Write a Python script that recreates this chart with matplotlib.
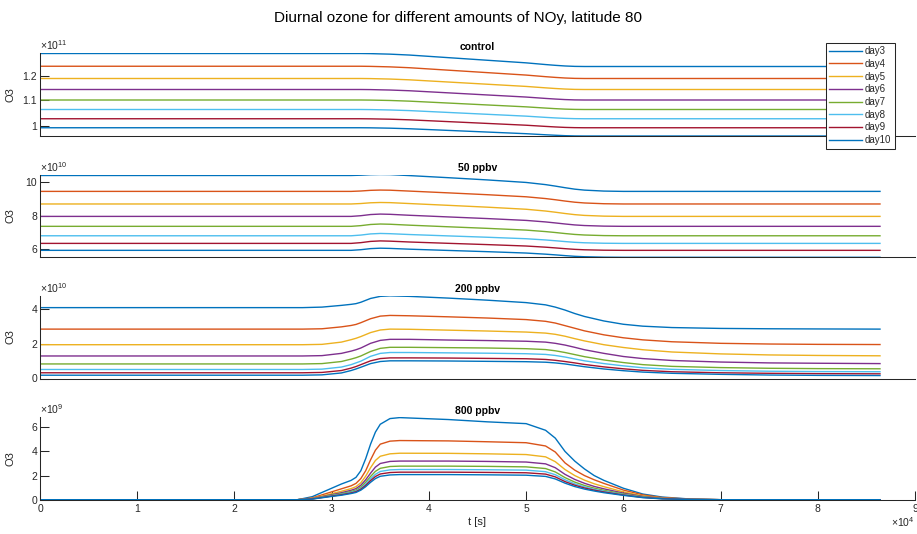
import matplotlib
matplotlib.use('Agg')
import matplotlib.pyplot as plt

plt.rcParams['font.family'] = ['Liberation Sans', 'DejaVu Sans']
plt.rcParams['mathtext.default'] = 'regular'

days = ['day3', 'day4', 'day5', 'day6', 'day7', 'day8', 'day9', 'day10']
colors = ['#0072BD', '#D95319', '#EDB120', '#7E2F8E', '#77AC30', '#4DBEEE', '#A2142F', '#0072BD']

# time in units of 1e4 s
# control, O3 in units of 1e11
t_control = [0, 3.3, 3.4, 3.5, 3.6, 3.8, 4.2, 4.6, 5.0, 5.2, 5.3, 5.4, 5.5, 5.6, 8.64]
o3_control = [
    [1.288, 1.288, 1.2875, 1.2864, 1.2854, 1.2818, 1.2714, 1.2610, 1.2506, 1.2438, 1.2407, 1.2381, 1.2365, 1.236, 1.236],
    [1.237, 1.237, 1.2365, 1.2355, 1.2345, 1.2311, 1.2213, 1.2115, 1.2017, 1.1953, 1.1924, 1.1900, 1.1885, 1.188, 1.188],
    [1.188, 1.188, 1.1876, 1.1867, 1.1858, 1.1827, 1.1739, 1.1651, 1.1563, 1.1506, 1.1480, 1.1458, 1.1444, 1.144, 1.144],
    [1.144, 1.144, 1.1436, 1.1427, 1.1419, 1.1390, 1.1306, 1.1222, 1.1138, 1.1083, 1.1058, 1.1037, 1.1024, 1.102, 1.102],
    [1.102, 1.102, 1.1016, 1.1009, 1.1001, 1.0974, 1.0898, 1.0822, 1.0746, 1.0697, 1.0674, 1.0655, 1.0644, 1.064, 1.064],
    [1.064, 1.064, 1.0636, 1.0629, 1.0621, 1.0596, 1.0522, 1.0448, 1.0374, 1.0325, 1.0303, 1.0285, 1.0274, 1.027, 1.027],
    [1.027, 1.027, 1.0266, 1.0259, 1.0252, 1.0227, 1.0155, 1.0083, 1.0011, 0.9964, 0.9942, 0.9924, 0.9914, 0.991, 0.991],
    [0.991, 0.991, 0.9907, 0.9900, 0.9893, 0.9870, 0.9804, 0.9738, 0.9672, 0.9629, 0.9610, 0.9593, 0.9583, 0.958, 0.958],
]

# 50 ppbv, O3 in units of 1e10
t_50 = [0, 3.2, 3.3, 3.4, 3.5, 3.6, 3.8, 4.2, 4.6, 5.0, 5.2, 5.3, 5.4, 5.5, 5.6, 5.8, 6.0, 8.64]
o3_50 = [
    [10.42, 10.42, 10.438, 10.468, 10.48, 10.474, 10.414, 10.287, 10.153, 10.0, 9.869, 9.78, 9.683, 9.595, 9.537, 9.479, 9.46, 9.46],
    [9.46, 9.46, 9.484, 9.524, 9.54, 9.532, 9.478, 9.371, 9.26, 9.134, 9.027, 8.956, 8.877, 8.807, 8.761, 8.715, 8.70, 8.70],
    [8.70, 8.70, 8.727, 8.772, 8.79, 8.781, 8.726, 8.618, 8.507, 8.381, 8.274, 8.203, 8.125, 8.056, 8.01, 7.965, 7.95, 7.95],
    [7.95, 7.95, 7.992, 8.062, 8.09, 8.076, 8.018, 7.918, 7.819, 7.708, 7.616, 7.556, 7.492, 7.435, 7.398, 7.362, 7.35, 7.35],
    [7.35, 7.35, 7.392, 7.462, 7.49, 7.476, 7.42, 7.323, 7.228, 7.122, 7.033, 6.977, 6.915, 6.861, 6.826, 6.791, 6.78, 6.78],
    [6.78, 6.78, 6.822, 6.892, 6.92, 6.906, 6.855, 6.772, 6.691, 6.601, 6.527, 6.48, 6.43, 6.385, 6.357, 6.329, 6.32, 6.32],
    [6.32, 6.32, 6.365, 6.44, 6.47, 6.455, 6.404, 6.324, 6.247, 6.161, 6.091, 6.048, 6.001, 5.96, 5.934, 5.908, 5.90, 5.90],
    [5.90, 5.90, 5.939, 6.004, 6.03, 6.017, 5.97, 5.894, 5.82, 5.737, 5.669, 5.627, 5.581, 5.54, 5.514, 5.488, 5.48, 5.48],
]

# 200 ppbv, O3 in units of 1e10
t_200 = [0, 2.7, 2.9, 3.1, 3.2, 3.25, 3.3, 3.4, 3.5, 3.6, 3.8, 4.2, 4.6, 5.0, 5.2, 5.3, 5.4, 5.5, 5.6, 5.8, 6.0, 6.2, 6.5, 7.0, 7.5, 8.0, 8.64]
o3_200 = [
    [4.09, 4.09, 4.12, 4.22, 4.28, 4.32, 4.40, 4.62, 4.74, 4.77, 4.74, 4.64, 4.52, 4.38, 4.25, 4.12, 3.95, 3.75, 3.58, 3.32, 3.13, 3.02, 2.94, 2.89, 2.87, 2.86, 2.85],
    [2.85, 2.85, 2.87, 2.98, 3.06, 3.12, 3.22, 3.45, 3.6, 3.64, 3.62, 3.56, 3.49, 3.4, 3.3, 3.2, 3.05, 2.9, 2.75, 2.52, 2.35, 2.23, 2.12, 2.03, 1.99, 1.97, 1.96],
    [1.95, 1.95, 1.97, 2.1, 2.24, 2.32, 2.42, 2.65, 2.8, 2.85, 2.84, 2.79, 2.74, 2.68, 2.62, 2.55, 2.44, 2.3, 2.17, 1.95, 1.79, 1.66, 1.53, 1.42, 1.36, 1.33, 1.31],
    [1.30, 1.30, 1.32, 1.45, 1.58, 1.66, 1.76, 2.03, 2.2, 2.26, 2.26, 2.22, 2.19, 2.15, 2.1, 2.03, 1.93, 1.8, 1.66, 1.45, 1.27, 1.15, 1.04, 0.95, 0.9, 0.88, 0.86],
    [0.84, 0.84, 0.86, 0.98, 1.12, 1.2, 1.3, 1.56, 1.74, 1.8, 1.8, 1.78, 1.76, 1.72, 1.67, 1.6, 1.5, 1.38, 1.26, 1.07, 0.92, 0.8, 0.7, 0.63, 0.59, 0.57, 0.56],
    [0.52, 0.52, 0.54, 0.66, 0.8, 0.9, 1.0, 1.28, 1.45, 1.5, 1.5, 1.48, 1.46, 1.43, 1.39, 1.33, 1.24, 1.13, 1.02, 0.86, 0.73, 0.62, 0.53, 0.46, 0.42, 0.4, 0.39],
    [0.33, 0.33, 0.35, 0.46, 0.6, 0.69, 0.8, 1.02, 1.15, 1.19, 1.19, 1.18, 1.16, 1.14, 1.1, 1.05, 0.98, 0.9, 0.81, 0.67, 0.56, 0.47, 0.39, 0.33, 0.3, 0.28, 0.27],
    [0.19, 0.19, 0.21, 0.32, 0.46, 0.55, 0.65, 0.86, 0.98, 1.02, 1.02, 1.01, 0.99, 0.97, 0.94, 0.9, 0.84, 0.76, 0.68, 0.55, 0.45, 0.37, 0.3, 0.24, 0.2, 0.18, 0.17],
]

# 800 ppbv, O3 in units of 1e9
t_800 = [0, 2.65, 2.8, 2.9, 3.0, 3.1, 3.2, 3.25, 3.3, 3.35, 3.4, 3.45, 3.5, 3.6, 3.7, 4.2, 4.6, 5.0, 5.2, 5.3, 5.4, 5.5, 5.6, 5.7, 5.8, 6.0, 6.2, 6.4, 6.7, 7.0, 8.64]
o3_800 = [
    [0, 0, 0.25, 0.6, 0.95, 1.3, 1.6, 1.85, 2.4, 3.4, 4.6, 5.6, 6.25, 6.72, 6.8, 6.64, 6.45, 6.3, 5.75, 5.1, 4.0, 3.2, 2.55, 2.0, 1.6, 0.95, 0.47, 0.22, 0.05, 0, 0],
    [0, 0, 0.15, 0.4, 0.65, 0.9, 1.15, 1.35, 1.75, 2.4, 3.3, 4.1, 4.6, 4.85, 4.9, 4.87, 4.8, 4.72, 4.45, 3.95, 3.05, 2.45, 2.0, 1.65, 1.35, 0.8, 0.4, 0.18, 0.04, 0, 0],
    [0, 0, 0.12, 0.3, 0.5, 0.7, 0.92, 1.08, 1.4, 1.95, 2.65, 3.25, 3.6, 3.8, 3.85, 3.84, 3.8, 3.74, 3.55, 3.15, 2.5, 2.0, 1.62, 1.32, 1.08, 0.65, 0.32, 0.14, 0.03, 0, 0],
    [0, 0, 0.1, 0.25, 0.42, 0.58, 0.78, 0.92, 1.2, 1.65, 2.2, 2.7, 3.0, 3.17, 3.2, 3.2, 3.17, 3.12, 2.97, 2.65, 2.1, 1.68, 1.36, 1.1, 0.9, 0.55, 0.27, 0.12, 0.03, 0, 0],
    [0, 0, 0.08, 0.22, 0.37, 0.5, 0.68, 0.8, 1.05, 1.45, 1.92, 2.35, 2.6, 2.75, 2.78, 2.78, 2.76, 2.72, 2.58, 2.3, 1.83, 1.46, 1.18, 0.96, 0.78, 0.48, 0.24, 0.1, 0.02, 0, 0],
    [0, 0, 0.07, 0.2, 0.33, 0.45, 0.61, 0.72, 0.95, 1.3, 1.73, 2.1, 2.34, 2.47, 2.5, 2.5, 2.48, 2.45, 2.32, 2.07, 1.65, 1.31, 1.06, 0.86, 0.7, 0.43, 0.21, 0.09, 0.02, 0, 0],
    [0, 0, 0.06, 0.18, 0.3, 0.41, 0.56, 0.66, 0.87, 1.19, 1.58, 1.92, 2.13, 2.25, 2.28, 2.28, 2.26, 2.23, 2.12, 1.89, 1.5, 1.2, 0.97, 0.79, 0.64, 0.39, 0.19, 0.08, 0.02, 0, 0],
    [0, 0, 0.05, 0.16, 0.27, 0.37, 0.51, 0.6, 0.79, 1.08, 1.44, 1.75, 1.94, 2.05, 2.08, 2.08, 2.06, 2.03, 1.93, 1.72, 1.37, 1.09, 0.88, 0.72, 0.58, 0.36, 0.17, 0.07, 0.02, 0, 0],
]

panels = [
    ('control', t_control, o3_control, 11, (0.958, 1.29), [1.0, 1.1, 1.2], ['1', '1.1', '1.2']),
    ('50 ppbv', t_50, o3_50, 10, (5.48, 10.48), [6, 8, 10], ['6', '8', '10']),
    ('200 ppbv', t_200, o3_200, 10, (0.0, 4.79), [0, 2, 4], ['0', '2', '4']),
    ('800 ppbv', t_800, o3_800, 9, (0.0, 6.85), [0, 2, 4, 6], ['0', '2', '4', '6']),
]
xticks = [0, 1, 2, 3, 4, 5, 6, 7, 8, 9]

W, H = 917, 534
dark = '#262626'
fig = plt.figure(figsize=(W / 100, H / 100), dpi=100)

# axes boxes in pixels: (top, bottom)
boxes = [(53, 136), (174.5, 257.3), (295.5, 378.5), (417, 499.7)]
left, right = 40, 915

axes = []
for i, (name, t, vals, expo, ylim, yt, ytl) in enumerate(panels):
    top, bot = boxes[i]
    ax = fig.add_axes([left / W, 1 - bot / H, (right - left) / W, (bot - top) / H])
    for v, c, d in zip(vals, colors, days):
        ax.plot(t, v, color=c, lw=1.0, label=d)
    ax.set_xlim(0, 9)
    ax.set_ylim(*ylim)
    ax.set_yticks(yt)
    ax.set_yticklabels(ytl)
    for s in ['top', 'right']:
        ax.spines[s].set_visible(False)
    for s in ['left', 'bottom']:
        ax.spines[s].set_color(dark)
        ax.spines[s].set_linewidth(0.75)
    ax.tick_params(axis='both', direction='in', length=6.5, width=0.75,
                   colors=dark, labelsize=7.5, pad=2)
    if i < 3:
        ax.set_xticks([])
    else:
        ax.set_xticks(xticks)
        ax.set_xticklabels([str(x) for x in xticks])
        ax.tick_params(axis='x', pad=3)
        ax.set_xlabel('t [s]', fontsize=8, color=dark, labelpad=2)
        ax.text(1.0, -0.27, r'$\times10^{4}$', transform=ax.transAxes,
                ha='right', va='center', fontsize=7.5, color=dark)
    ax.set_ylabel('O3', fontsize=8, color=dark)
    ax.yaxis.set_label_coords(-0.0275, 0.5)
    ax.set_title(name, fontsize=7.5, fontweight='bold', pad=2.5, color='black')
    ax.text(0.0, 1.01, r'$\times10^{%d}$' % expo, transform=ax.transAxes,
            ha='left', va='bottom', fontsize=7.5, color=dark)
    axes.append(ax)

leg = axes[0].legend(loc='upper left', bbox_to_anchor=(825.7 / W, 1 - 42.7 / H),
                     bbox_transform=fig.transFigure, borderaxespad=0,
                     fontsize=7, handlelength=3.4, handletextpad=0.3,
                     labelspacing=0.28, borderpad=0.35, fancybox=False,
                     framealpha=1, edgecolor=dark)
leg.get_frame().set_linewidth(0.75)
for txt in leg.get_texts():
    txt.set_color(dark)
leg.set_zorder(10)

fig.text(0.499, 1 - 18 / H, 'Diurnal ozone for different amounts of NOy, latitude 80',
         ha='center', va='center', fontsize=11, color='black')

fig.savefig('out.png', dpi=100)
